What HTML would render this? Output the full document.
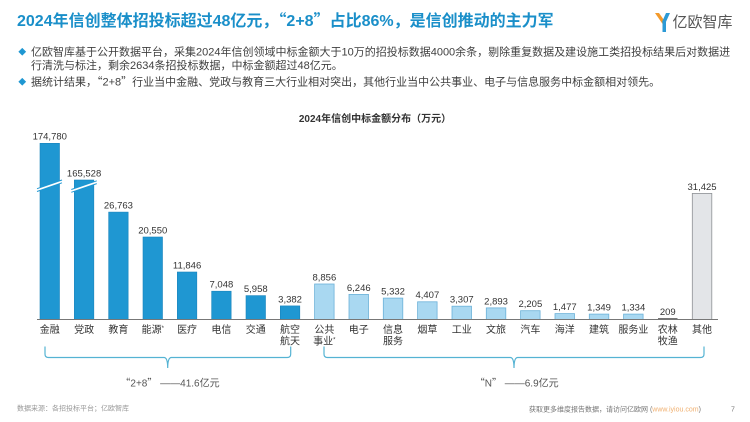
<!DOCTYPE html>
<html><head><meta charset="utf-8"><style>
html,body{margin:0;padding:0;background:#fff;}
svg{display:block;}
text{font-family:"Liberation Sans","Noto Sans CJK SC",sans-serif;}
.q{font-family:"Noto Sans CJK SC","Liberation Sans",sans-serif;}
.v{font-size:9.5px;fill:#333;text-anchor:middle;}
.c{font-size:10px;fill:#333;text-anchor:middle;}
.b{font-size:11px;fill:#404040;}
</style></head><body>
<svg width="750" height="422" viewBox="0 0 750 422" xmlns="http://www.w3.org/2000/svg">
<rect width="750" height="422" fill="#fff"/>
<!-- Title -->
<text x="17" y="26" font-size="16" font-weight="bold" fill="#1a8fc9">2024年信创整体招投标超过48亿元，<tspan class="q">“</tspan>2+8<tspan class="q">”</tspan>占比86%，是信创推动的主力军</text>
<!-- Logo -->
<polygon points="655,13 659,13 666,23 664,26" fill="#f39a2b"/>
<polygon points="670,13 666,13 662,22 665,24" fill="#2c9ad6"/>
<rect x="662.5" y="22" width="3.5" height="10" fill="#2c9ad6"/>
<text x="672.5" y="27.2" font-size="15" fill="#555">亿欧智库</text>
<!-- Bullets -->
<rect x="19.5" y="49" width="5.5" height="5.5" fill="#1f97d2" transform="rotate(45 22.25 51.75)"/>
<text class="b" x="31" y="55.7">亿欧智库基于公开数据平台，采集2024年信创领域中标金额大于10万的招投标数据4000余条，剔除重复数据及建设施工类招投标结果后对数据进</text>
<text class="b" x="31" y="69">行清洗与标注，剩余2634条招投标数据，中标金额超过48亿元。</text>
<rect x="19.5" y="79" width="5.5" height="5.5" fill="#1f97d2" transform="rotate(45 22.25 81.75)"/>
<text class="b" x="31" y="85.7">据统计结果，<tspan class="q">“</tspan>2+8<tspan class="q">”</tspan>行业当中金融、党政与教育三大行业相对突出，其他行业当中公共事业、电子与信息服务中标金额相对领先。</text>
<!-- Chart title -->
<text x="375" y="122" font-size="10" font-weight="bold" fill="#333" text-anchor="middle">2024年信创中标金额分布（万元）</text>

<!-- Dark bars -->
<g fill="#1f97d2" stroke="#1a84bc" stroke-width="0.6">
<rect x="40" y="143.3" width="19.5" height="176.2"/>
<rect x="74.33" y="180" width="19.5" height="139.5"/>
<rect x="108.66" y="212.1" width="19.5" height="107.4"/>
<rect x="143" y="237" width="19.5" height="82.5"/>
<rect x="177.32" y="272" width="19.5" height="47.5"/>
<rect x="211.65" y="291.2" width="19.5" height="28.3"/>
<rect x="246" y="295.6" width="19.5" height="23.9"/>
<rect x="280.3" y="305.9" width="19.5" height="13.6"/>
</g>
<!-- Light bars -->
<g fill="#a9d8f1" stroke="#6cb2d9" stroke-width="0.8">
<rect x="314.6" y="284" width="19.5" height="35.5"/>
<rect x="349" y="294.4" width="19.5" height="25.1"/>
<rect x="383.3" y="298.1" width="19.5" height="21.4"/>
<rect x="417.6" y="301.8" width="19.5" height="17.7"/>
<rect x="452" y="306.2" width="19.5" height="13.3"/>
<rect x="486.3" y="307.9" width="19.5" height="11.6"/>
<rect x="520.6" y="310.7" width="19.5" height="8.8"/>
<rect x="555" y="313.6" width="19.5" height="5.9"/>
<rect x="589.3" y="314.1" width="19.5" height="5.4"/>
<rect x="623.6" y="314.1" width="19.5" height="5.4"/>
</g>
<rect x="658" y="318.2" width="19.5" height="1.3" fill="#555"/>
<rect x="692.3" y="193.4" width="19.5" height="126.1" fill="#e3e5e8" stroke="#8e9296" stroke-width="0.8"/>

<!-- Break marks -->
<polygon points="37,191.5 62,182.8 62,180 37,188.7" fill="#fff"/>
<line x1="37" y1="191.5" x2="62" y2="182.8" stroke="#1f97d2" stroke-width="1"/>
<line x1="37" y1="188.7" x2="62" y2="180" stroke="#1f97d2" stroke-width="1"/>
<polygon points="71.3,192.3 96.8,183.6 96.8,180.8 71.3,189.5" fill="#fff"/>
<line x1="71.3" y1="192.3" x2="96.8" y2="183.6" stroke="#1f97d2" stroke-width="1"/>
<line x1="71.3" y1="189.5" x2="96.8" y2="180.8" stroke="#1f97d2" stroke-width="1"/>

<!-- Axis -->
<line x1="37" y1="319.5" x2="718" y2="319.5" stroke="#777" stroke-width="1"/>

<!-- Value labels -->
<text class="v" x="49.75" y="139.7">174,780</text>
<text class="v" x="84.08" y="176.4">165,528</text>
<text class="v" x="118.41" y="208.5">26,763</text>
<text class="v" x="152.75" y="233.4">20,550</text>
<text class="v" x="187.07" y="268.4">11,846</text>
<text class="v" x="221.4" y="287.6">7,048</text>
<text class="v" x="255.75" y="292">5,958</text>
<text class="v" x="290.05" y="302.3">3,382</text>
<text class="v" x="324.35" y="280.4">8,856</text>
<text class="v" x="358.75" y="290.8">6,246</text>
<text class="v" x="393.05" y="294.5">5,332</text>
<text class="v" x="427.35" y="298.2">4,407</text>
<text class="v" x="461.75" y="302.6">3,307</text>
<text class="v" x="496.05" y="304.3">2,893</text>
<text class="v" x="530.35" y="307.1">2,205</text>
<text class="v" x="564.75" y="310">1,477</text>
<text class="v" x="599.05" y="310.5">1,349</text>
<text class="v" x="633.35" y="310.5">1,334</text>
<text class="v" x="667.75" y="315.1">209</text>
<text class="v" x="702.05" y="189.8">31,425</text>

<!-- Category labels -->
<text class="c" x="49.75" y="333">金融</text>
<text class="c" x="84.08" y="333">党政</text>
<text class="c" x="118.41" y="333">教育</text>
<text class="c" x="152.75" y="333">能源<tspan font-size="6" dy="-3">*</tspan></text>
<text class="c" x="187.07" y="333">医疗</text>
<text class="c" x="221.4" y="333">电信</text>
<text class="c" x="255.75" y="333">交通</text>
<text class="c" x="290.05" y="333">航空</text>
<text class="c" x="290.05" y="344.4">航天</text>
<text class="c" x="324.35" y="333">公共</text>
<text class="c" x="324.35" y="344.4">事业<tspan font-size="6" dy="-3">*</tspan></text>
<text class="c" x="358.75" y="333">电子</text>
<text class="c" x="393.05" y="333">信息</text>
<text class="c" x="393.05" y="344.4">服务</text>
<text class="c" x="427.35" y="333">烟草</text>
<text class="c" x="461.75" y="333">工业</text>
<text class="c" x="496.05" y="333">文旅</text>
<text class="c" x="530.35" y="333">汽车</text>
<text class="c" x="564.75" y="333">海洋</text>
<text class="c" x="599.05" y="333">建筑</text>
<text class="c" x="633.35" y="333">服务业</text>
<text class="c" x="667.75" y="333">农林</text>
<text class="c" x="667.75" y="344.4">牧渔</text>
<text class="c" x="702.05" y="333">其他</text>

<!-- Brackets -->
<path d="M45,346.5 L45,354 Q45,357.5 48.5,357.5 L164,357.5 Q167.7,357.5 167.7,368 Q167.7,357.5 171.4,357.5 L287.2,357.5 Q290.7,357.5 290.7,354 L290.7,346.5" fill="none" stroke="#55b3d3" stroke-width="1.2"/>
<path d="M324,346.5 L324,354 Q324,357.5 327.5,357.5 L510.3,357.5 Q514,357.5 514,368 Q514,357.5 517.7,357.5 L700.5,357.5 Q704,357.5 704,354 L704,346.5" fill="none" stroke="#55b3d3" stroke-width="1.2"/>
<text x="170" y="386.5" font-size="10" fill="#555" text-anchor="middle"><tspan class="q">“</tspan>2+8<tspan class="q">”</tspan> ——41.6亿元</text>
<text x="516.7" y="386.5" font-size="10" fill="#555" text-anchor="middle"><tspan class="q">“</tspan>N<tspan class="q">”</tspan> ——6.9亿元</text>

<!-- Footer -->
<text x="17" y="410.3" font-size="7" fill="#999">数据来源：各招投标平台；亿欧智库</text>
<text x="529" y="411.6" font-size="7" fill="#777">获取更多维度报告数据，请访问亿欧网 (<tspan fill="#f0b070">www.iyiou.com</tspan>)</text>
<text x="731" y="411.6" font-size="7" fill="#777">7</text>
</svg>
</body></html>
